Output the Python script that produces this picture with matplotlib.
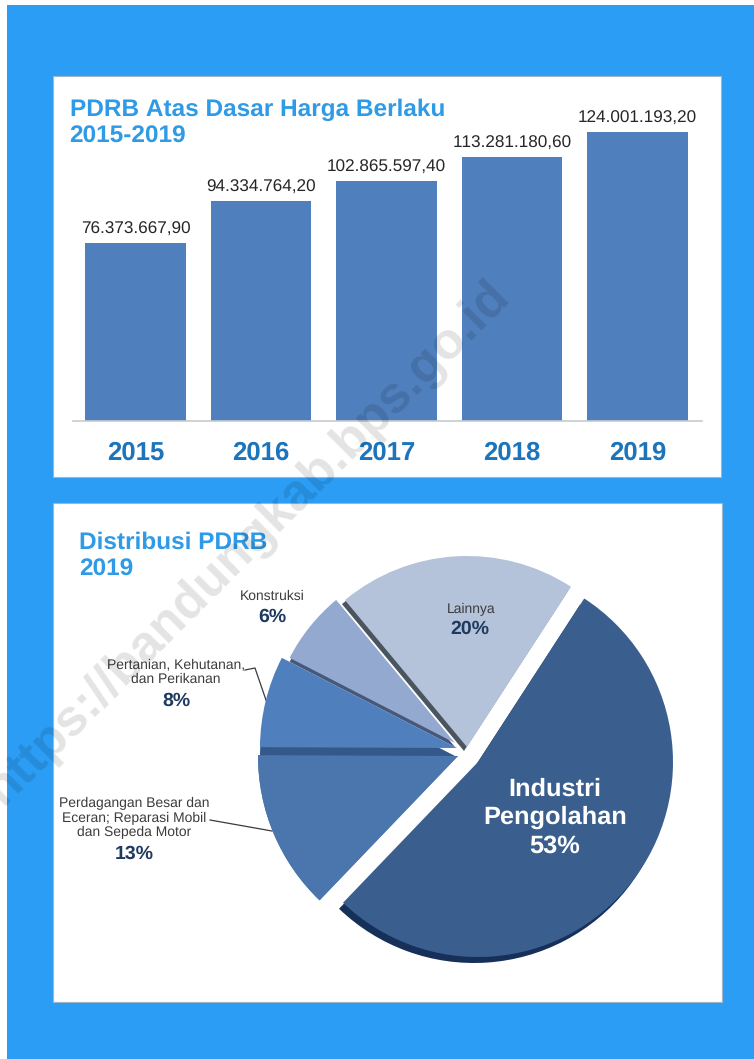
import matplotlib
matplotlib.use("Agg")
import matplotlib.pyplot as plt
from matplotlib.patches import Rectangle

plt.rcParams['font.family'] = ['Liberation Sans', 'DejaVu Sans']
plt.rcParams['text.kerning_factor'] = 6
plt.rcParams['text.hinting'] = 'no_hinting'

# ---- data ----
years = ['2015', '2016', '2017', '2018', '2019']
pdrb_values = [76373667.90, 94334764.20, 102865597.40, 113281180.60, 124001193.20]
pdrb_labels = ['76.373.667,90', '94.334.764,20', '102.865.597,40', '113.281.180,60', '124.001.193,20']
sectors = ['Industri\nPengolahan', 'Perdagangan Besar dan\nEceran; Reparasi Mobil\ndan Sepeda Motor',
           'Pertanian, Kehutanan,\ndan Perikanan', 'Konstruksi', 'Lainnya']
shares = [53, 12.9, 7.5, 6.4, 20.2]
share_labels = ['53%', '13%', '8%', '6%', '20%']

# ---- styles ----
W, H = 754, 1059
BLUE = '#2b9df4'
TITLE = '#2f9ae6'
YEAR = '#1c75bc'
NAVY = '#1f3a60'
wedge_colors = ['#3a5f8f', '#4a76ad', '#4f80bd', '#94a9cf', '#b4c2da']
edge_colors = ['#16305a', '#4a76ad', '#34588a', '#47597a', '#4a5560']
# slice apex (pixel x, pixel y from top) and radius, one per slice
top_apex = [(478, 762), (458, 756), (457, 748), (455, 743), (467, 747)]
edge_apex = [(474, 768), (458, 756), (457, 757), (455, 747), (464, 751)]
radii = [195, 200, 197, 186, 191]


def py(y):
    return H - y


fig = plt.figure(figsize=(W / 100, H / 100), dpi=100, facecolor='white')
bg = fig.add_axes([0, 0, 1, 1])
bg.set_xlim(0, W)
bg.set_ylim(0, H)
bg.axis('off')
bg.add_patch(Rectangle((7, 0), W - 7, H - 5, fc=BLUE, ec='none'))
bg.add_patch(Rectangle((53, py(477)), 668, 401, fc='white', ec='#9fb6c8', lw=0.8))
bg.add_patch(Rectangle((53, py(1002)), 669, 499, fc='white', ec='#9fb6c8', lw=0.8))

# ---- bar chart ----
left, right, top, bottom = 73, 702, 80, 421
ax = fig.add_axes([left / W, py(bottom) / H, (right - left) / W, (bottom - top) / H])
ax.patch.set_alpha(0)
xs = list(range(len(years)))
bars = ax.bar(xs, pdrb_values, width=0.8, color='#4f7fbc', edgecolor='none')
ax.set_xlim(-0.498, 4.514)
ax.set_ylim(0, 146.35e6)
ax.bar_label(bars, labels=pdrb_labels, padding=4, fontsize=12.3, color='#262626')
ax.set_xticks(xs, years)
ax.tick_params(axis='x', length=0, pad=14, labelsize=18.5, labelcolor=YEAR)
for t in ax.get_xticklabels():
    t.set_fontweight('bold')
ax.set_yticks([])
for s in ('top', 'left', 'right'):
    ax.spines[s].set_visible(False)
ax.spines['bottom'].set_color('#c6ccd2')
ax.spines['bottom'].set_linewidth(1.2)

bg.text(70, py(110), 'PDRB Atas Dasar Harga Berlaku', fontsize=17.6, fontweight='bold', color=TITLE, va='center')
bg.text(69, py(137), '2015-2019', fontsize=17.6, fontweight='bold', color=TITLE, va='center')

# ---- pie chart ----
pa = fig.add_axes([0, 0, 1, 1])
pa.patch.set_alpha(0)


def draw_pie(colors, apexes, zorder):
    wedges, _ = pa.pie(shares, colors=colors, startangle=57, counterclock=False, frame=True,
                       wedgeprops=dict(edgecolor='none'))
    for w, (x, y), rad in zip(wedges, apexes, radii):
        w.set_center((x, py(y)))
        w.set_radius(rad)
        w.set_zorder(zorder)
    return wedges


draw_pie(edge_colors, edge_apex, 2)
top_wedges = draw_pie(wedge_colors, top_apex, 3)
top_wedges[1].set_zorder(2.5)
pa.set_aspect('auto')
pa.set_xlim(0, W)
pa.set_ylim(0, H)
pa.axis('off')

pa.plot([210, 272], [py(820), py(831)], color='#3a3a3a', lw=0.9)
pa.plot([245, 255, 267], [py(670), py(668), py(703)], color='#3a3a3a', lw=0.9)

pa.text(79, py(543), 'Distribusi PDRB', fontsize=17.6, fontweight='bold', color=TITLE, va='center')
pa.text(79, py(570), '2019', fontsize=17.6, fontweight='bold', color=TITLE, va='center')

small = dict(fontsize=10, color='#3c3c3c', ha='center', va='center', linespacing=1.15, zorder=5)
big = dict(fontsize=14, fontweight='bold', color=NAVY, ha='center', va='center', zorder=5)
pa.text(272, py(596), sectors[3], **small)
pa.text(272, py(617), share_labels[3], **big)
pa.text(471, py(609), sectors[4], **small)
pa.text(470, py(629), share_labels[4], **big)
pa.text(176, py(672), sectors[2], **small)
pa.text(176, py(701), share_labels[2], **big)
pa.text(134, py(818), sectors[1], **small)
pa.text(134, py(854), share_labels[1], **big)
pa.text(555, py(803), sectors[0], fontsize=18.3, fontweight='bold', color='white', ha='center', va='center',
        linespacing=1.25, zorder=5)
pa.text(555, py(846), share_labels[0], fontsize=18.3, fontweight='bold', color='white', ha='center', va='center', zorder=5)

# ---- watermark ----
pa.text(502, py(288), 'https://bandungkab.bps.go.id', fontsize=37, fontweight='bold', color='black', alpha=0.11,
        rotation=45, rotation_mode='anchor', ha='right', va='center', clip_on=True, zorder=6)

fig.savefig('out.png', dpi=100)
